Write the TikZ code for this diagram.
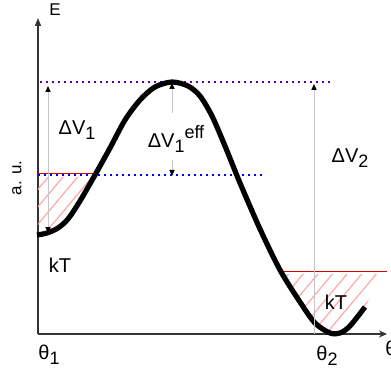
\documentclass[tikz,border=0pt]{standalone}
\usepackage{fontspec}
\setmainfont{Liberation Sans}
\usetikzlibrary{arrows.meta,patterns.meta}

\newcommand{\lowsub}[1]{\raisebox{-2.5pt}{\fontsize{9}{9}\selectfont #1}}
\newcommand{\highsup}[1]{\raisebox{4.5pt}{\fontsize{9}{9}\selectfont #1}}

\begin{document}
\begin{tikzpicture}[x=0.5pt,y=-0.5pt,
  lbl/.style={font=\fontsize{10}{12}\selectfont, inner sep=0pt},
  gap/.style={draw=gray!45, line width=0.5pt, >={Triangle[length=3pt,width=2.6pt,color=black]}},
  hatch/.style={pattern={Lines[angle=50,distance=5.6pt,line width=0.6pt]}, pattern color=red!35},
  barrier/.style={insert path={plot[smooth] coordinates {(37,235) (47,233) (58,228) (68,219) (80,201) (95,175) (110,148) (125,120) (140,100) (155,87) (172,82) (188,86) (200,96) (212,116) (225,146) (240,183) (260,229) (280,270) (300,302) (315,323) (330,333) (340,333) (350,326) (365,307)}}}]

\useasboundingbox (0,0) rectangle (391,374);

% Axes
\coordinate (O) at (38,334);
\coordinate (ytip) at (38,18);
\coordinate (xtip) at (387,334);
\draw[line width=0.75pt, black!80, -{Triangle[length=4pt,width=3pt]}] (O) -- (ytip);
\draw[line width=0.75pt, black!80, -{Stealth[length=4pt,width=3.5pt]}] (O) -- (xtip);
\node[font=\fontsize{8.5}{9}\selectfont] (E) at (55,10) {E};
\node[lbl] (theta) at (391,348) {θ};
\node[lbl, rotate=90, font=\fontsize{8.5}{9}\selectfont] (au) at (17,178) {a. u.};
\node[lbl] (th1) at (49,355) {θ\lowsub{1}};
\node[lbl] (th2) at (327,356) {θ\lowsub{2}};

% Thermal wells
\begin{scope}
  \clip[barrier] -- (383,271) -- (383,0) -- (37,0) -- cycle;
  \fill[hatch] (38,178) rectangle (100,240);
  \fill[hatch] (275,274) rectangle (390,340);
\end{scope}
\draw[red!85!black, line width=0.5pt] (38,174) -- (95,174);
\draw[red!85!black, line width=0.5pt] (280,271) -- (387,271);

% Levels
\draw[violet!70!blue, line width=0.9pt, dash pattern=on 0.9pt off 2.1pt] (40,82) -- (330,82);
\draw[blue, line width=0.9pt, dash pattern=on 0.9pt off 2.1pt] (38,175) -- (262,175);

% Barrier
\draw[line width=2.6pt] [barrier];

% Heights
\coordinate (v1top) at (48,86);
\coordinate (v1bot) at (48,233);
\draw[gap, <->] (v1bot) -- (v1top);
\coordinate (efftop) at (172,83);
\coordinate (effup) at (172,113);
\coordinate (efflow) at (172,160);
\coordinate (effbot) at (172,176);
\draw[gap, ->] (effup) -- (efftop);
\draw[gap, ->] (efflow) -- (effbot);
\coordinate (v2top) at (314,84);
\coordinate (v2bot) at (314,334);
\draw[gap, ->] (v2bot) -- (v2top);

% Labels
\node[lbl] (dv1) at (77,130) {ΔV\lowsub{1}};
\node[lbl] (dveff) at (176,139) {ΔV\lowsub{1}\highsup{eff}};
\node[lbl] (dv2) at (350,158) {ΔV\lowsub{2}};
\node[lbl] (kt1) at (60,265) {kT};
\node[lbl] (kt2) at (336,302) {kT};

\end{tikzpicture}
\end{document}
